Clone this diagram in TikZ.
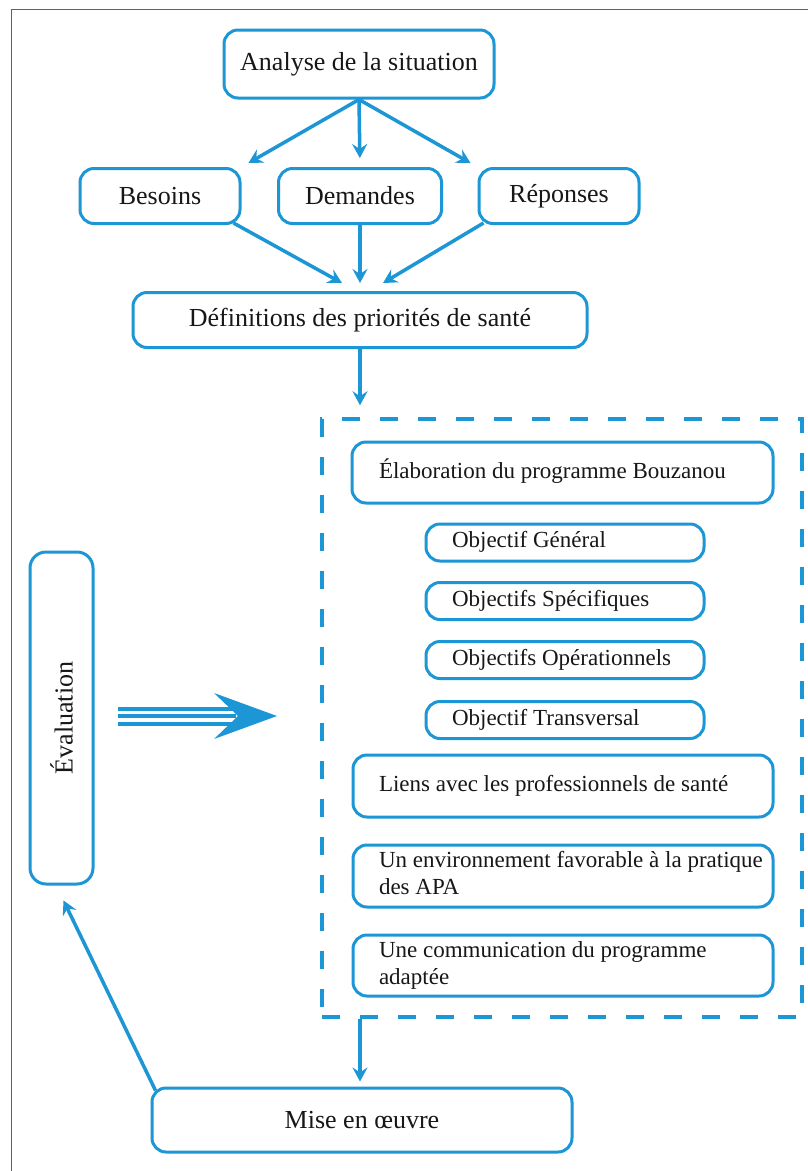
\documentclass[tikz,border=0pt]{standalone}
\usepackage{fontspec}
\setmainfont{Liberation Serif}
\usetikzlibrary{arrows.meta,calc}
\definecolor{bz}{RGB}{28,150,212}
\definecolor{txt}{RGB}{25,22,23}
\newcommand{\lefttext}[2]{\makebox[#1][l]{\begin{tabular}{@{}l@{}}#2\end{tabular}}}
\begin{document}
\begin{tikzpicture}[x=1pt,y=-1pt,
  box/.style={draw=bz, line width=3pt, rounded corners=14pt, text=txt, inner sep=0pt, align=center},
  big/.style={box, font=\fontsize{26}{30}\selectfont},
  small/.style={box, font=\fontsize{23}{27}\selectfont},
  arr/.style={draw=bz, line width=3.5pt, -{Stealth[length=14pt,width=15pt,inset=5pt]}},
]
\useasboundingbox (0,0) rectangle (808,1171);
\fill[white] (0,0) rectangle (808,1171);
% frame
\draw[gray!75!black, line width=1.6pt] (11.5,1171) -- (11.5,9.5) -- (808,9.5);

% top part
\node[big, minimum width=270pt, minimum height=68pt] (ana) at (359,64) {Analyse de la situation};
\node[big, minimum width=160pt, minimum height=55pt] (bes) at (160,196) {Besoins};
\node[big, minimum width=163pt, minimum height=55pt] (dem) at (360,196) {Demandes};
\node[big, minimum width=160pt, minimum height=55pt] (rep) at (559,196) {Réponses};
\node[big, minimum width=454pt, minimum height=55pt] (def) at (360,320) {Définitions des priorités de santé};

% dashed programme box
\node[draw=bz, line width=3.5pt, dash pattern=on 18pt off 20pt, minimum width=480pt, minimum height=598pt, inner sep=0pt] (prog) at (562,718) {};

\node[small, minimum width=421pt, minimum height=61pt] (elab) at (562.5,472.5) {\lefttext{367pt}{Élaboration du programme Bouzanou}};
\node[small, minimum width=278pt, minimum height=37pt] (og) at (565,542.5) {\lefttext{226pt}{Objectif Général}};
\node[small, minimum width=278pt, minimum height=37pt] (os) at (565,601) {\lefttext{226pt}{Objectifs Spécifiques}};
\node[small, minimum width=278pt, minimum height=37pt] (oo) at (565,660) {\lefttext{226pt}{Objectifs Opérationnels}};
\node[small, minimum width=278pt, minimum height=37pt] (ot) at (565,720) {\lefttext{226pt}{Objectif Transversal}};
\node[small, minimum width=420pt, minimum height=62pt] (liens) at (563,786) {\lefttext{368pt}{Liens avec les professionnels de santé}};
\node[small, minimum width=420pt, minimum height=62pt] (env) at (563,876) {\lefttext{368pt}{Un environnement favorable à la pratique\\des APA}};
\node[small, minimum width=420pt, minimum height=61pt] (com) at (563,965.5) {\lefttext{368pt}{Une communication du programme\\adaptée}};

% bottom and left
\node[big, minimum width=420pt, minimum height=64pt] (mise) at (362,1120) {Mise en œuvre};
\node[big, minimum width=63pt, minimum height=332pt, rounded corners=16pt] (eval) at (61.5,718) {\rotatebox{90}{Évaluation}};

% connectors
\draw[arr, shorten >=8pt] (ana.south) -- (bes.north east);
\draw[arr, shorten >=9pt] (ana.south) -- (dem.north);
\draw[arr, shorten >=8pt] (ana.south) -- (rep.north west);
\draw[arr] ($(bes.south east)+(-8,-2)$) -- ($(def.north)+(-18,-8)$);
\draw[arr, shorten >=8pt] (dem.south) -- (def.north);
\draw[arr] ($(rep.south west)+(6,-2)$) -- ($(def.north)+(23,-8)$);
\draw[arr, shorten >=12pt] (def.south) -- (def.south |- prog.north);
\draw[arr, shorten >=5pt] (def.south |- prog.south) -- (def.south |- mise.north);
\draw[arr] ($(mise.north west)+(5,4)$) -- ($(eval.south)+(2,15)$);

% triple arrow
\draw[bz, line width=4pt] (118,708.5) -- (236,708.5);
\draw[bz, line width=4pt] (118,716) -- (236,716);
\draw[bz, line width=4pt] (118,723.5) -- (236,723.5);
\fill[bz] (277,716) -- (214,693) -- (238,716) -- (214,739) -- cycle;
\end{tikzpicture}
\end{document}
